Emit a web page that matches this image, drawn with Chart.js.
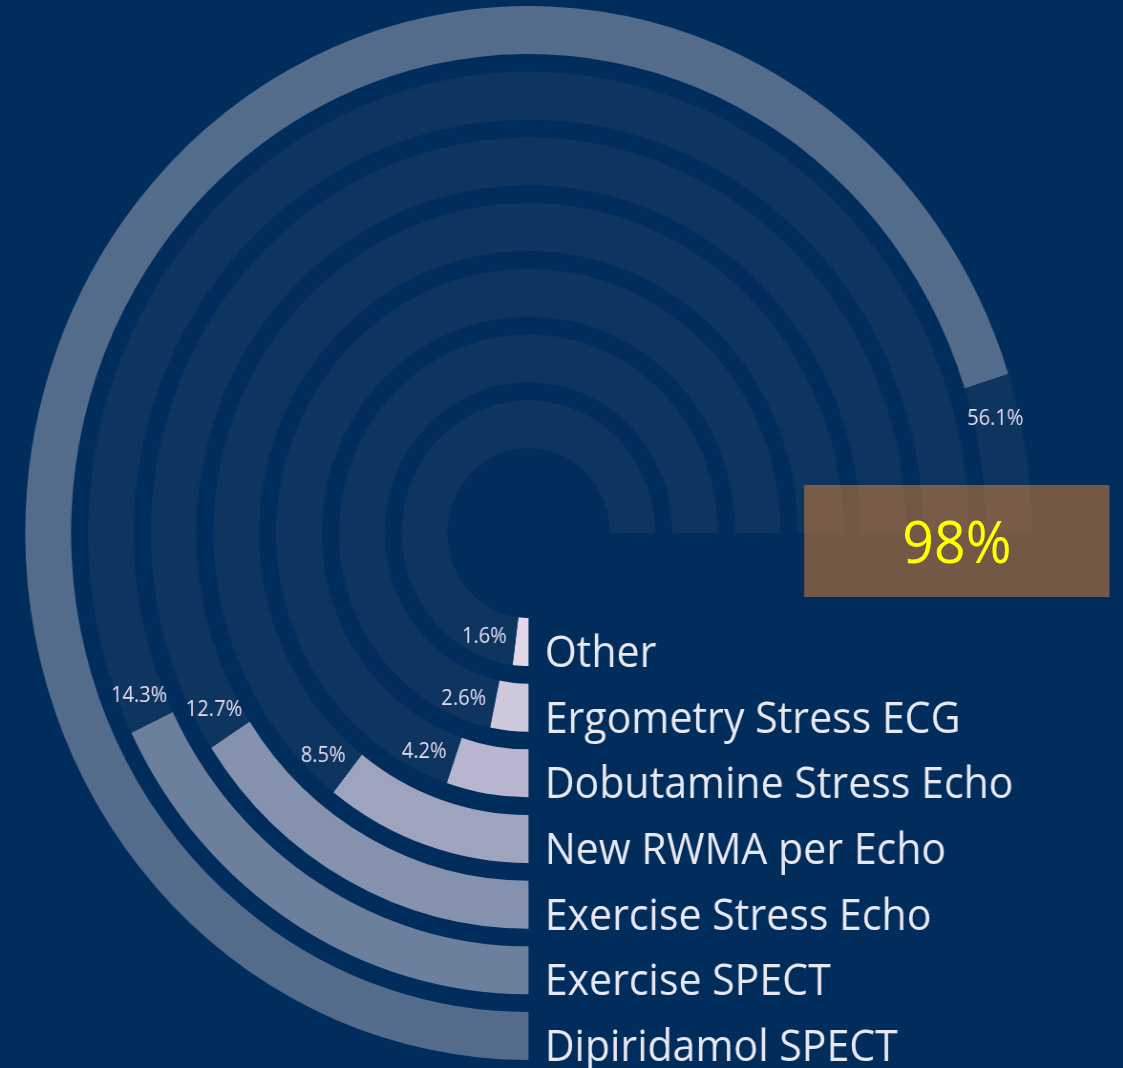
<!DOCTYPE html>
<html>
<head>
<meta charset="utf-8">
<script src="https://cdn.jsdelivr.net/npm/chart.js@4.4.1/dist/chart.umd.min.js"></script>
<style>
  html, body { margin: 0; padding: 0; background: #002d5b; overflow: hidden; }
  #wrap { position: absolute; left: 0; top: 0; width: 1176px; height: 1068px;
          transform: scaleX(0.955); transform-origin: 0 0; }
  #c { position: absolute; left: 0; top: 0; }
  #box { position: absolute; left: 842px; top: 485px; width: 320px; height: 112px;
         background: rgba(200,120,55,0.58); color: #ffff00;
         font-family: "Open Sans", sans-serif; font-size: 58px; line-height: 112px;
         text-align: center; }
</style>
</head>
<body>
<div id="wrap">
  <canvas id="c" width="1176" height="1068"></canvas>
  <div id="box">98%</div>
</div>
<script>
// Data (outermost ring first)
const categories = ["Dipiridamol SPECT", "Exercise SPECT", "Exercise Stress Echo", "New RWMA per Echo",
                    "Dobutamine Stress Echo", "Ergometry Stress ECG", "Other"];
const values = [56.1, 14.3, 12.7, 8.5, 4.2, 2.6, 1.6];
const valueLabels = ["56.1%", "14.3%", "12.7%", "8.5%", "4.2%", "2.6%", "1.6%"];
const scaleMax = 60;
const barColors = ["#536c8c", "#6c809e", "#8592ae", "#9ea3be", "#b7b6ce", "#cec8dc", "#e2d7e9"];
const trackColor = "#0d3560";

const RING_W = 48, GAP_W = 17.67;
const datasets = [];
const ringIndex = [];
categories.forEach((cat, i) => {
  if (i > 0) {
    datasets.push({ data: [scaleMax], backgroundColor: ["rgba(0,0,0,0)"], weight: GAP_W, borderWidth: 0 });
  }
  ringIndex.push(datasets.length);
  datasets.push({
    label: cat,
    data: [values[i], scaleMax - values[i]],
    backgroundColor: [barColors[i], trackColor],
    weight: RING_W,
    borderWidth: 0
  });
});

const labelPlugin = {
  id: 'ringLabels',
  afterDatasetsDraw(chart) {
    const ctx = chart.ctx;
    ctx.save();
    ringIndex.forEach((di, i) => {
      const arc = chart.getDatasetMeta(di).data[0];
      const p = arc.getProps(['x', 'y', 'startAngle', 'endAngle', 'innerRadius', 'outerRadius'], true);
      const rMid = (p.innerRadius + p.outerRadius) / 2;
      const a = p.endAngle + 34 / rMid;
      ctx.fillStyle = "#e3dbee";
      ctx.font = '21px "Open Sans", sans-serif';
      ctx.textAlign = 'center';
      ctx.textBaseline = 'middle';
      ctx.fillText(valueLabels[i], p.x + Math.cos(a) * rMid, p.y + Math.sin(a) * rMid + 5);
      ctx.fillStyle = "#e9e7f1";
      ctx.font = '43px "Open Sans", sans-serif';
      ctx.textAlign = 'left';
      ctx.textBaseline = 'alphabetic';
      ctx.fillText(categories[i], p.x + 17, p.y + p.outerRadius + 1);
    });
    ctx.restore();
  }
};

new Chart(document.getElementById('c'), {
  type: 'doughnut',
  data: { labels: ["value", "rest"], datasets },
  options: {
    responsive: false,
    animation: false,
    events: [],
    rotation: 180,
    circumference: 270,
    cutout: 85,
    layout: { padding: { left: 26.4, right: 95.6, top: 6, bottom: 8 } },
    plugins: { legend: { display: false }, tooltip: { enabled: false } }
  },
  plugins: [labelPlugin]
});
</script>
</body>
</html>
